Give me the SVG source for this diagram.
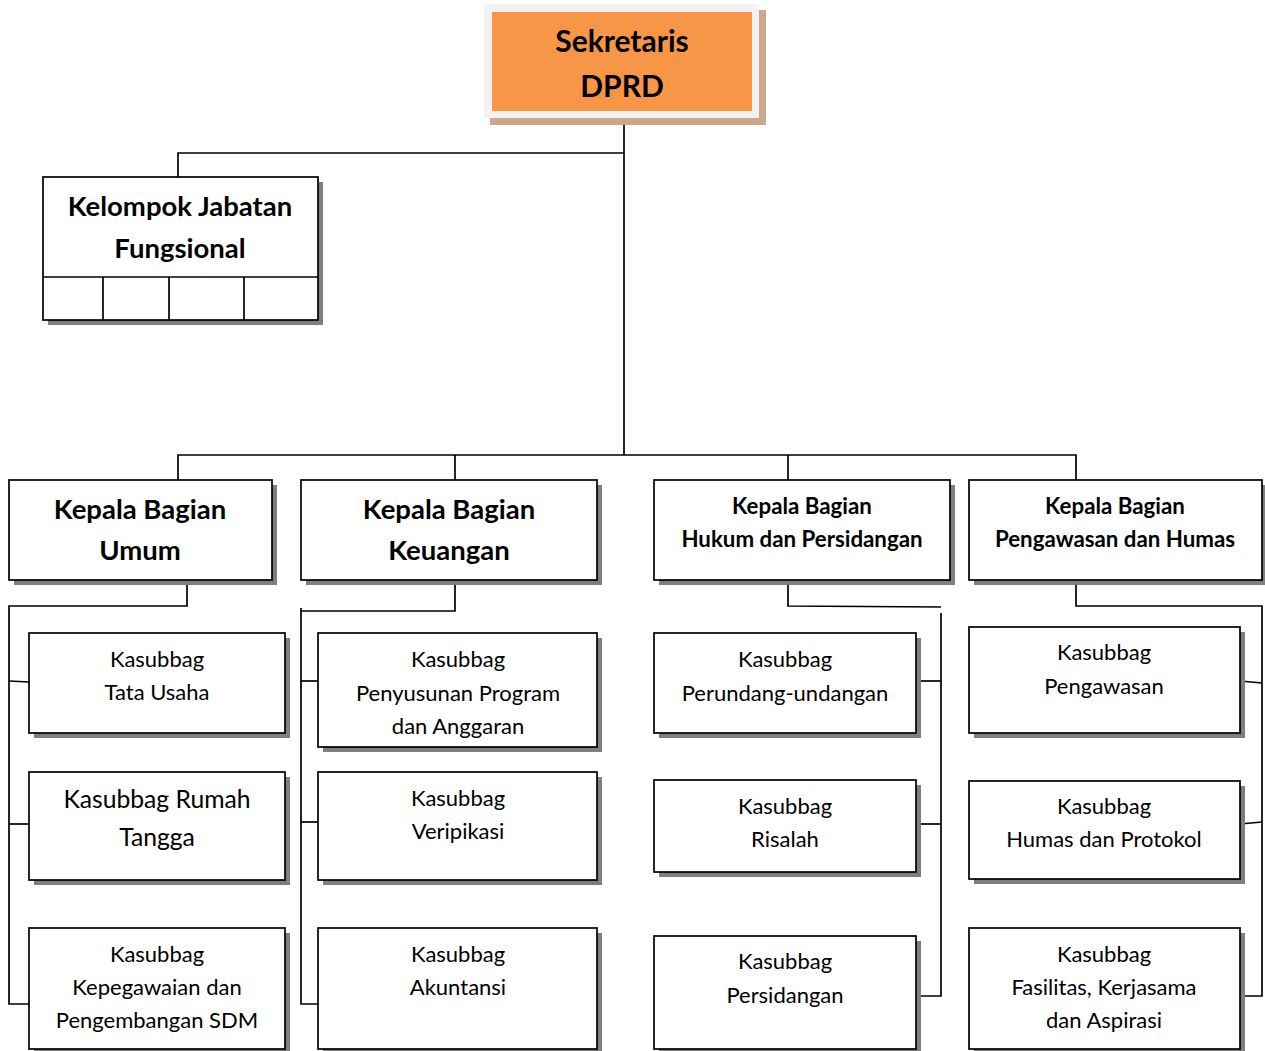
<svg xmlns="http://www.w3.org/2000/svg" width="1265" height="1051" viewBox="0 0 1265 1051">
<style>
.bx{fill:#fff;stroke:#000;stroke-width:1.7}
.sh{fill:#7f7f7f}
.ln{fill:none;stroke:#000;stroke-width:1.7}
text{font-family:Lato,"Liberation Sans",sans-serif;text-anchor:middle;fill:#000}
.t1{font-size:30px;font-weight:bold}
.t2{font-size:27.5px;font-weight:bold}
.t3{font-size:22.3px;font-weight:bold}
.t4{font-size:22px}
.t5{font-size:24.7px}
</style>
<rect width="1265" height="1051" fill="#fff"/>
<g id="connectors">
<polyline class="ln" points="624,111 624,455"/>
<polyline class="ln" points="178,177 178,153 624,153"/>
<polyline class="ln" points="178,480 178,455 1076,455 1076,480"/>
<line class="ln" x1="455" y1="455" x2="455" y2="480"/>
<line class="ln" x1="788" y1="455" x2="788" y2="480"/>
<polyline class="ln" points="187,580 187,606 9,606 9,1004 29,1004"/>
<line class="ln" x1="9" y1="681" x2="29" y2="682"/>
<line class="ln" x1="9" y1="824" x2="29" y2="824"/>
<polyline class="ln" points="455,580 455,611 301,611"/>
<polyline class="ln" points="301,608 301,1004 318,1004"/>
<line class="ln" x1="301" y1="681" x2="318" y2="681"/>
<line class="ln" x1="301" y1="822" x2="318" y2="822"/>
<polyline class="ln" points="788,580 788,606 941,607"/>
<polyline class="ln" points="941,613 941,996 916,996"/>
<line class="ln" x1="916" y1="681" x2="941" y2="681"/>
<line class="ln" x1="916" y1="824" x2="941" y2="824"/>
<polyline class="ln" points="1076,580 1076,606 1262,606 1262,996 1240,996"/>
<line class="ln" x1="1240" y1="681" x2="1262" y2="683"/>
<line class="ln" x1="1240" y1="824" x2="1262" y2="822"/>
</g>
<g id="sekretaris">
<rect x="490" y="10" width="276" height="115" fill="#cfa686"/>
<rect x="484" y="4" width="275" height="114" fill="#f2f2f2"/>
<rect x="492" y="12" width="260" height="99" fill="#f79646"/>
<text class="t1" x="622" y="52">Sekretaris</text>
<text class="t1" x="622" y="97">DPRD</text>
</g>
<g id="kelompok">
<rect class="sh" x="48" y="182" width="275" height="143"/>
<rect class="bx" x="43" y="177" width="275" height="143"/>
<line class="ln" x1="43" y1="277" x2="318" y2="277"/>
<line class="ln" x1="103" y1="277" x2="103" y2="320"/>
<line class="ln" x1="169" y1="277" x2="169" y2="320"/>
<line class="ln" x1="244" y1="277" x2="244" y2="320"/>
<text class="t2" x="180" y="216">Kelompok Jabatan</text>
<text class="t2" x="180" y="258">Fungsional</text>
</g>
<g id="kabag-umum">
<rect class="sh" x="14" y="485" width="263" height="100"/>
<rect class="bx" x="9" y="480" width="263" height="100"/>
<text class="t2" x="140" y="519">Kepala Bagian</text>
<text class="t2" x="140" y="560">Umum</text>
</g>
<g id="kabag-keuangan">
<rect class="sh" x="306" y="485" width="296" height="100"/>
<rect class="bx" x="301" y="480" width="296" height="100"/>
<text class="t2" x="449" y="519">Kepala Bagian</text>
<text class="t2" x="449" y="560">Keuangan</text>
</g>
<g id="kabag-hukum">
<rect class="sh" x="659" y="485" width="296" height="100"/>
<rect class="bx" x="654" y="480" width="296" height="100"/>
<text class="t3" x="802" y="514">Kepala Bagian</text>
<text class="t3" x="802" y="547">Hukum dan Persidangan</text>
</g>
<g id="kabag-pengawasan">
<rect class="sh" x="974" y="485" width="293" height="100"/>
<rect class="bx" x="969" y="480" width="293" height="100"/>
<text class="t3" x="1115" y="514">Kepala Bagian</text>
<text class="t3" x="1115" y="547">Pengawasan dan Humas</text>
</g>
<g id="tata-usaha">
<rect class="sh" x="34" y="638" width="256" height="100"/>
<rect class="bx" x="29" y="633" width="256" height="100"/>
<text class="t4" x="157" y="667">Kasubbag</text>
<text class="t4" x="157" y="700">Tata Usaha</text>
</g>
<g id="rumah-tangga">
<rect class="sh" x="34" y="777" width="256" height="108"/>
<rect class="bx" x="29" y="772" width="256" height="108"/>
<text class="t5" x="157" y="808">Kasubbag Rumah</text>
<text class="t5" x="157" y="846">Tangga</text>
</g>
<g id="kepegawaian">
<rect class="sh" x="34" y="933" width="256" height="121"/>
<rect class="bx" x="29" y="928" width="256" height="121"/>
<text class="t4" x="157" y="962">Kasubbag</text>
<text class="t4" x="157" y="995">Kepegawaian dan</text>
<text class="t4" x="157" y="1028">Pengembangan SDM</text>
</g>
<g id="penyusunan">
<rect class="sh" x="323" y="638" width="279" height="114"/>
<rect class="bx" x="318" y="633" width="279" height="114"/>
<text class="t4" x="458" y="667">Kasubbag</text>
<text class="t4" x="458" y="701">Penyusunan Program</text>
<text class="t4" x="458" y="734">dan Anggaran</text>
</g>
<g id="veripikasi">
<rect class="sh" x="323" y="777" width="279" height="108"/>
<rect class="bx" x="318" y="772" width="279" height="108"/>
<text class="t4" x="458" y="806">Kasubbag</text>
<text class="t4" x="458" y="839">Veripikasi</text>
</g>
<g id="akuntansi">
<rect class="sh" x="323" y="933" width="279" height="121"/>
<rect class="bx" x="318" y="928" width="279" height="121"/>
<text class="t4" x="458" y="962">Kasubbag</text>
<text class="t4" x="458" y="995">Akuntansi</text>
</g>
<g id="perundang">
<rect class="sh" x="659" y="638" width="262" height="100"/>
<rect class="bx" x="654" y="633" width="262" height="100"/>
<text class="t4" x="785" y="667">Kasubbag</text>
<text class="t4" x="785" y="701">Perundang-undangan</text>
</g>
<g id="risalah">
<rect class="sh" x="659" y="785" width="262" height="92"/>
<rect class="bx" x="654" y="780" width="262" height="92"/>
<text class="t4" x="785" y="814">Kasubbag</text>
<text class="t4" x="785" y="847">Risalah</text>
</g>
<g id="persidangan">
<rect class="sh" x="659" y="941" width="262" height="113"/>
<rect class="bx" x="654" y="936" width="262" height="113"/>
<text class="t4" x="785" y="969">Kasubbag</text>
<text class="t4" x="785" y="1003">Persidangan</text>
</g>
<g id="pengawasan">
<rect class="sh" x="974" y="632" width="271" height="106"/>
<rect class="bx" x="969" y="627" width="271" height="106"/>
<text class="t4" x="1104" y="660">Kasubbag</text>
<text class="t4" x="1104" y="694">Pengawasan</text>
</g>
<g id="humas">
<rect class="sh" x="974" y="786" width="271" height="98"/>
<rect class="bx" x="969" y="781" width="271" height="98"/>
<text class="t4" x="1104" y="814">Kasubbag</text>
<text class="t4" x="1104" y="847">Humas dan Protokol</text>
</g>
<g id="fasilitas">
<rect class="sh" x="974" y="933" width="271" height="121"/>
<rect class="bx" x="969" y="928" width="271" height="121"/>
<text class="t4" x="1104" y="962">Kasubbag</text>
<text class="t4" x="1104" y="995">Fasilitas, Kerjasama</text>
<text class="t4" x="1104" y="1028">dan Aspirasi</text>
</g>
</svg>
